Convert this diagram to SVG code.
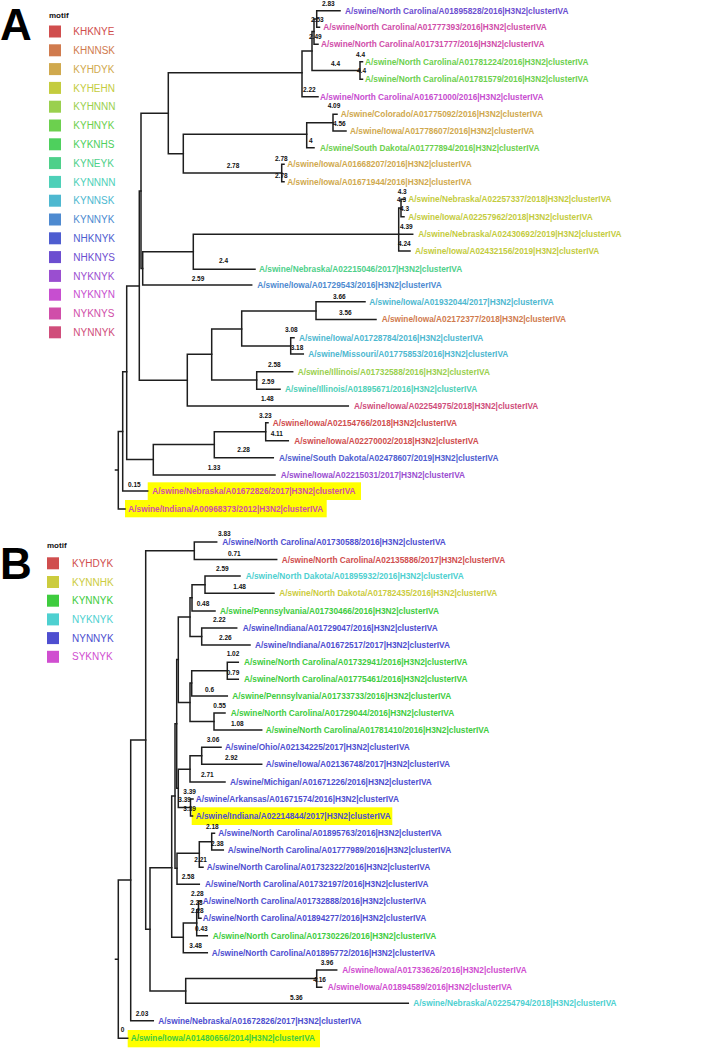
<svg xmlns="http://www.w3.org/2000/svg" width="727" height="1049" viewBox="0 0 727 1049">
<style>
.br{fill:none;stroke:#1e1e1e;stroke-width:1.5;stroke-linecap:square}
.lf{font-family:"Liberation Sans",Arial,sans-serif;font-weight:bold;font-size:8.3px}
.bl{font-family:"Liberation Sans",Arial,sans-serif;font-weight:bold;font-size:6.5px;fill:#111}
.lg{font-family:"Liberation Sans",Arial,sans-serif;font-size:10px}
.ttl{font-family:"Liberation Sans",Arial,sans-serif;font-weight:bold;font-size:8px;fill:#111}
.big{font-family:"Liberation Sans",Arial,sans-serif;font-weight:bold;font-size:44px;fill:#000}
.hl{fill:#ffff00}
.c0{fill:hsl(0,58%,56%)}.c1{fill:hsl(21,58%,56%)}.c2{fill:hsl(42,58%,56%)}.c3{fill:hsl(63,58%,52%)}
.c4{fill:hsl(85,58%,56%)}.c5{fill:hsl(106,58%,56%)}.c6{fill:hsl(127,58%,56%)}.c7{fill:hsl(148,58%,56%)}
.c8{fill:hsl(169,58%,56%)}.c9{fill:hsl(191,58%,56%)}.c10{fill:hsl(212,58%,56%)}.c11{fill:hsl(233,58%,56%)}
.c12{fill:hsl(254,58%,56%)}.c13{fill:hsl(275,58%,56%)}.c14{fill:hsl(296,58%,56%)}.c15{fill:hsl(318,58%,56%)}.c16{fill:hsl(339,58%,56%)}
.b0{fill:hsl(0,58%,56%)}.b1{fill:hsl(60,58%,52%)}.b2{fill:hsl(120,58%,52%)}.b3{fill:hsl(180,58%,56%)}.b4{fill:hsl(240,58%,56%)}.b5{fill:hsl(300,58%,56%)}
</style>
<rect width="727" height="1049" fill="#fff"/>

<!-- Panel A -->
<text class="big" x="0" y="40">A</text>
<g id="legend-a">
<text class="ttl" x="49" y="17.5">motif</text>
<rect class="c0" x="49" y="25.5" width="12" height="12"/><text class="lg c0" x="73.3" y="35.1">KHKNYE</text>
<rect class="c1" x="49" y="44.3" width="12" height="12"/><text class="lg c1" x="73.3" y="53.9">KHNNSK</text>
<rect class="c2" x="49" y="63.1" width="12" height="12"/><text class="lg c2" x="73.3" y="72.7">KYHDYK</text>
<rect class="c3" x="49" y="81.9" width="12" height="12"/><text class="lg c3" x="73.3" y="91.5">KYHEHN</text>
<rect class="c4" x="49" y="100.7" width="12" height="12"/><text class="lg c4" x="73.3" y="110.3">KYHNNN</text>
<rect class="c5" x="49" y="119.5" width="12" height="12"/><text class="lg c5" x="73.3" y="129.1">KYHNYK</text>
<rect class="c6" x="49" y="138.3" width="12" height="12"/><text class="lg c6" x="73.3" y="147.9">KYKNHS</text>
<rect class="c7" x="49" y="157.1" width="12" height="12"/><text class="lg c7" x="73.3" y="166.7">KYNEYK</text>
<rect class="c8" x="49" y="175.9" width="12" height="12"/><text class="lg c8" x="73.3" y="185.5">KYNNNN</text>
<rect class="c9" x="49" y="194.7" width="12" height="12"/><text class="lg c9" x="73.3" y="204.3">KYNNSK</text>
<rect class="c10" x="49" y="213.5" width="12" height="12"/><text class="lg c10" x="73.3" y="223.1">KYNNYK</text>
<rect class="c11" x="49" y="232.3" width="12" height="12"/><text class="lg c11" x="73.3" y="241.9">NHKNYK</text>
<rect class="c12" x="49" y="251.1" width="12" height="12"/><text class="lg c12" x="73.3" y="260.7">NHKNYS</text>
<rect class="c13" x="49" y="269.9" width="12" height="12"/><text class="lg c13" x="73.3" y="279.5">NYKNYK</text>
<rect class="c14" x="49" y="288.7" width="12" height="12"/><text class="lg c14" x="73.3" y="298.3">NYKNYN</text>
<rect class="c15" x="49" y="307.5" width="12" height="12"/><text class="lg c15" x="73.3" y="317.1">NYKNYS</text>
<rect class="c16" x="49" y="326.3" width="12" height="12"/><text class="lg c16" x="73.3" y="335.9">NYNNYK</text>
</g>

<rect class="hl" x="147.7" y="482.3" width="213.3" height="17.7"/>
<rect class="hl" x="125" y="500" width="201.7" height="17.3"/>

<g id="connectors-a" class="br">
<path d="M118.3 431.4V509M115.5 470H118.3M118.3 431.4H122.7M118.3 509H125"/>
<path d="M122.7 371.7V491M122.7 491H147.7M122.7 371.7H126.7"/>
<path d="M126.7 286V459.6M126.7 286H139.3M126.7 459.6H153.3"/>
<path d="M139.3 191V380.2M139.3 191H141M139.3 380.2H187.3"/>
<path d="M141 113.3V268.4M141 113.3H168.3M141 268.4H142.7"/>
<path d="M142.7 251.8V285M142.7 251.8H193.3M142.7 285H251.7"/>
<path d="M193.3 234.3V269.3M193.3 234.3H398.7M193.3 269.3H255"/>
<path d="M398.7 208V251M398.7 208H401M398.7 234.3H412.7M398.7 251H410"/>
<path d="M401 199.3V216.7M401 199.3H405M401 216.7H404"/>
<path d="M168.3 72.7V153.8M168.3 72.7H302M168.3 153.8H183.3"/>
<path d="M302 51V96.7M302 51H312M302 96.7H318"/>
<path d="M312 31.5V70.5M312 31.5H314M312 70.5H360"/>
<path d="M314 19V44.3M314 19H316.7M314 44.3H318"/>
<path d="M316.7 10.7V27.3M316.7 10.7H340M316.7 27.3H319.5"/>
<path d="M360 61.7V79.3M360 61.7H362.5M360 79.3H362.5"/>
<path d="M183.3 134.3V173M183.3 134.3H306.7M183.3 173H281.7"/>
<path d="M306.7 122.7V147.7M306.7 122.7H333M306.7 147.7H314"/>
<path d="M333 114.3V131M333 114.3H337M333 131H346"/>
<path d="M281.7 164.3V181.7M281.7 164.3H284M281.7 181.7H284"/>
<path d="M187.3 354.3V406M187.3 354.3H211.7M187.3 406H348.3"/>
<path d="M211.7 329V380M211.7 329H241.7M211.7 380H256.7"/>
<path d="M241.7 311V346M241.7 311H316M241.7 346H290.7"/>
<path d="M316 301.7V319.5M316 301.7H365M316 319.5H376"/>
<path d="M290.7 337.7V354M290.7 337.7H294M290.7 354H303.3"/>
<path d="M256.7 371.7V389.3M256.7 371.7H292.7M256.7 389.3H280"/>
<path d="M153.3 444.5V475M153.3 444.5H214.3M153.3 475H275"/>
<path d="M214.3 431.7V457.7M214.3 431.7H265.7M214.3 457.7H273.3"/>
<path d="M265.7 422.7V440.7M265.7 422.7H268M265.7 440.7H288.3"/>
</g>

<g id="branch-labels-a" class="bl">
<text x="322" y="6.3">2.83</text>
<text x="311" y="22.3">2.53</text>
<text x="309" y="39.3">2.49</text>
<text x="331" y="65.6">4.4</text>
<text x="356" y="56.6">4.4</text>
<text x="357" y="73.3">4.4</text>
<text x="303" y="91.6">2.22</text>
<text x="327.7" y="108.3">4.09</text>
<text x="333" y="125.6">4.56</text>
<text x="309" y="143.3">4</text>
<text x="226.7" y="168.3">2.78</text>
<text x="275" y="160.6">2.78</text>
<text x="275" y="178.3">2.78</text>
<text x="397.7" y="194">4.3</text>
<text x="397" y="202.3">4.3</text>
<text x="400" y="211.3">4.3</text>
<text x="400" y="229">4.39</text>
<text x="398" y="245.6">4.24</text>
<text x="219" y="263.3">2.4</text>
<text x="191.7" y="281.3">2.59</text>
<text x="333" y="299">3.66</text>
<text x="339" y="315">3.56</text>
<text x="285" y="332.3">3.08</text>
<text x="290.7" y="350">3.18</text>
<text x="268" y="366.6">2.58</text>
<text x="261.7" y="384">2.59</text>
<text x="261" y="401">1.48</text>
<text x="259" y="418.3">3.23</text>
<text x="270.7" y="435.6">4.11</text>
<text x="237.3" y="452.3">2.28</text>
<text x="207.7" y="470">1.33</text>
<text x="128" y="486.6">0.15</text>
</g>

<g id="a-leaf-1"><text class="lf c12" x="345" y="13.7">A/swine/North Carolina/A01895828/2016|H3N2|clusterIVA</text></g>
<g id="a-leaf-2"><text class="lf c15" x="323.3" y="30.3">A/swine/North Carolina/A01777393/2016|H3N2|clusterIVA</text></g>
<g id="a-leaf-3"><text class="lf c15" x="321" y="47.3">A/swine/North Carolina/A01731777/2016|H3N2|clusterIVA</text></g>
<g id="a-leaf-4"><text class="lf c5" x="365" y="64.7">A/swine/North Carolina/A01781224/2016|H3N2|clusterIVA</text></g>
<g id="a-leaf-5"><text class="lf c5" x="365" y="82.3">A/swine/North Carolina/A01781579/2016|H3N2|clusterIVA</text></g>
<g id="a-leaf-6"><text class="lf c14" x="320" y="99.7">A/swine/North Carolina/A01671000/2016|H3N2|clusterIVA</text></g>
<g id="a-leaf-7"><text class="lf c2" x="340.7" y="117.3">A/swine/Colorado/A01775092/2016|H3N2|clusterIVA</text></g>
<g id="a-leaf-8"><text class="lf c2" x="350" y="134">A/swine/Iowa/A01778607/2016|H3N2|clusterIVA</text></g>
<g id="a-leaf-9"><text class="lf c5" x="320" y="150.7">A/swine/South Dakota/A01777894/2016|H3N2|clusterIVA</text></g>
<g id="a-leaf-10"><text class="lf c2" x="287.3" y="167.3">A/swine/Iowa/A01668207/2016|H3N2|clusterIVA</text></g>
<g id="a-leaf-11"><text class="lf c2" x="287.3" y="184.7">A/swine/Iowa/A01671944/2016|H3N2|clusterIVA</text></g>
<g id="a-leaf-12"><text class="lf c3" x="408.3" y="202.3">A/swine/Nebraska/A02257337/2018|H3N2|clusterIVA</text></g>
<g id="a-leaf-13"><text class="lf c3" x="408.3" y="219.7">A/swine/Iowa/A02257962/2018|H3N2|clusterIVA</text></g>
<g id="a-leaf-14"><text class="lf c3" x="418.3" y="237.3">A/swine/Nebraska/A02430692/2019|H3N2|clusterIVA</text></g>
<g id="a-leaf-15"><text class="lf c3" x="415" y="254">A/swine/Iowa/A02432156/2019|H3N2|clusterIVA</text></g>
<g id="a-leaf-16"><text class="lf c7" x="259" y="272.3">A/swine/Nebraska/A02215046/2017|H3N2|clusterIVA</text></g>
<g id="a-leaf-17"><text class="lf c10" x="257.3" y="288">A/swine/Iowa/A01729543/2016|H3N2|clusterIVA</text></g>
<g id="a-leaf-18"><text class="lf c9" x="369.3" y="304.7">A/swine/Iowa/A01932044/2017|H3N2|clusterIVA</text></g>
<g id="a-leaf-19"><text class="lf c1" x="381.7" y="322">A/swine/Iowa/A02172377/2018|H3N2|clusterIVA</text></g>
<g id="a-leaf-20"><text class="lf c9" x="299" y="340.7">A/swine/Iowa/A01728784/2016|H3N2|clusterIVA</text></g>
<g id="a-leaf-21"><text class="lf c9" x="308.3" y="357">A/swine/Missouri/A01775853/2016|H3N2|clusterIVA</text></g>
<g id="a-leaf-22"><text class="lf c4" x="297.7" y="374.7">A/swine/Illinois/A01732588/2016|H3N2|clusterIVA</text></g>
<g id="a-leaf-23"><text class="lf c8" x="285" y="392.3">A/swine/Illinois/A01895671/2016|H3N2|clusterIVA</text></g>
<g id="a-leaf-24"><text class="lf c16" x="354" y="409">A/swine/Iowa/A02254975/2018|H3N2|clusterIVA</text></g>
<g id="a-leaf-25"><text class="lf c0" x="272.7" y="425.7">A/swine/Iowa/A02154766/2018|H3N2|clusterIVA</text></g>
<g id="a-leaf-26"><text class="lf c0" x="294.3" y="443.7">A/swine/Iowa/A02270002/2018|H3N2|clusterIVA</text></g>
<g id="a-leaf-27"><text class="lf c11" x="279" y="460.7">A/swine/South Dakota/A02478607/2019|H3N2|clusterIVA</text></g>
<g id="a-leaf-28"><text class="lf c13" x="280.7" y="478">A/swine/Iowa/A02215031/2017|H3N2|clusterIVA</text></g>
<g id="a-leaf-29"><text class="lf c15" x="152.3" y="494">A/swine/Nebraska/A01672826/2017|H3N2|clusterIVA</text></g>
<g id="a-leaf-30"><text class="lf c15" x="128.3" y="512">A/swine/Indiana/A00968373/2012|H3N2|clusterIVA</text></g>

<!-- Panel B -->
<text class="big" x="0" y="578.5">B</text>
<g id="legend-b">
<text class="ttl" x="47" y="548">motif</text>
<rect class="b0" x="47" y="557.3" width="12" height="12"/><text class="lg b0" x="72" y="566.9">KYHDYK</text>
<rect class="b1" x="47" y="576" width="12" height="12"/><text class="lg b1" x="72" y="585.6">KYNNHK</text>
<rect class="b2" x="47" y="594.7" width="12" height="12"/><text class="lg b2" x="72" y="604.3">KYNNYK</text>
<rect class="b3" x="47" y="613.4" width="12" height="12"/><text class="lg b3" x="72" y="623">NYKNYK</text>
<rect class="b4" x="47" y="632.1" width="12" height="12"/><text class="lg b4" x="72" y="641.7">NYNNYK</text>
<rect class="b5" x="47" y="650.8" width="12" height="12"/><text class="lg b5" x="72" y="660.4">SYKNYK</text>
</g>

<rect class="hl" x="191.7" y="807.3" width="200.6" height="17.7"/>
<rect class="hl" x="127.7" y="1030" width="192.3" height="17.3"/>

<g id="connectors-b" class="br">
<path d="M118.3 880V1038.3M115.5 959.3H118.3M118.3 880H130.7M118.3 1038.3H127.7"/>
<path d="M130.7 740V1020.7M130.7 740H145.7M130.7 1020.7H153.3"/>
<path d="M145.7 550.7V929.3M145.7 550.7H194.3M145.7 929.3H150"/>
<path d="M194.3 542V559.5M194.3 542H216.7M194.3 559.5H276.7"/>
<path d="M150 867.7V991M150 867.7H171.7M150 991H185.7"/>
<path d="M185.7 978.5V1003.3M185.7 978.5H316.7M185.7 1003.3H408.3"/>
<path d="M316.7 970V987.3M316.7 970H336.7M316.7 987.3H321.7"/>
<path d="M171.7 796V937.3M171.7 796H175M171.7 937.3H183.3"/>
<path d="M183.3 923V952.7M183.3 923H196.7M183.3 952.7H207.3"/>
<path d="M196.7 909.7V935.7M196.7 909.7H198.5M196.7 935.7H207.3"/>
<path d="M198.5 901V918.3M198.5 901H201M198.5 918.3H201"/>
<path d="M175 723.8V868.3M175 723.8H176.7M175 868.3H177"/>
<path d="M177 853.3V884.3M177 853.3H199.3M177 884.3H199.3"/>
<path d="M199.3 841.7V867.3M199.3 841.7H211.7M199.3 867.3H203"/>
<path d="M211.7 833.3V850M211.7 833.3H214.5M211.7 850H223.3"/>
<path d="M176.7 659.5V788.3M176.7 659.5H178.3M176.7 788.3H178.3"/>
<path d="M178.3 769.3V807.5M178.3 769.3H190M178.3 807.5H190.5"/>
<path d="M190 755.8V782M190 755.8H201.7M190 782H225"/>
<path d="M201.7 747.3V764.3M201.7 747.3H221M201.7 764.3H261.7"/>
<path d="M190.5 799V816M190.5 799H193M190.5 816H192.5"/>
<path d="M178.3 617V702.5M178.3 617H190M178.3 702.5H190"/>
<path d="M190 683V721.5M190 683H191.7M190 721.5H214"/>
<path d="M191.7 670.8V696M191.7 670.8H227.3M191.7 696H227.3"/>
<path d="M227.3 662.3V679.3M227.3 662.3H238.3M227.3 679.3H238.3"/>
<path d="M214 713V730M214 713H225M214 730H261.7"/>
<path d="M190 597.8V636.5M190 597.8H192M190 636.5H201.7"/>
<path d="M192 584.7V611M192 584.7H205M192 611H215"/>
<path d="M205 576V593.3M205 576H240M205 593.3H274"/>
<path d="M201.7 628V645M201.7 628H236.7M201.7 645H250"/>
</g>

<g id="branch-labels-b" class="bl">
<text x="218" y="536">3.83</text>
<text x="228" y="555.6">0.71</text>
<text x="216" y="571.3">2.59</text>
<text x="233.3" y="589">1.48</text>
<text x="196.7" y="605.6">0.48</text>
<text x="213" y="622.3">2.22</text>
<text x="219" y="639.6">2.26</text>
<text x="226.7" y="656.3">1.02</text>
<text x="226.7" y="674.6">0.79</text>
<text x="205" y="691.6">0.6</text>
<text x="213.3" y="708">0.55</text>
<text x="231" y="725.6">1.08</text>
<text x="206.7" y="742.3">3.06</text>
<text x="225" y="759.6">2.92</text>
<text x="201" y="776.6">2.71</text>
<text x="183.3" y="794">3.39</text>
<text x="178.3" y="802.3">3.39</text>
<text x="183.3" y="811.3">3.39</text>
<text x="206" y="829">2.18</text>
<text x="211" y="845.6">2.38</text>
<text x="194.3" y="862.3">2.21</text>
<text x="181.7" y="879">2.58</text>
<text x="191" y="895.6">2.28</text>
<text x="190" y="904.6">2.28</text>
<text x="191" y="913.3">2.28</text>
<text x="195" y="930.6">0.43</text>
<text x="189.3" y="948.3">3.48</text>
<text x="320.7" y="965">3.96</text>
<text x="313.3" y="981.6">4.16</text>
<text x="290" y="1000">5.36</text>
<text x="135.7" y="1015.6">2.03</text>
<text x="120.7" y="1031.6">0</text>
</g>

<g id="b-leaf-1"><text class="lf b4" x="222.3" y="545">A/swine/North Carolina/A01730588/2016|H3N2|clusterIVA</text></g>
<g id="b-leaf-2"><text class="lf b0" x="281.7" y="562.5">A/swine/North Carolina/A02135886/2017|H3N2|clusterIVA</text></g>
<g id="b-leaf-3"><text class="lf b3" x="245.7" y="579">A/swine/North Dakota/A01895932/2016|H3N2|clusterIVA</text></g>
<g id="b-leaf-4"><text class="lf b1" x="279.3" y="596.3">A/swine/North Dakota/A01782435/2016|H3N2|clusterIVA</text></g>
<g id="b-leaf-5"><text class="lf b2" x="220" y="614">A/swine/Pennsylvania/A01730466/2016|H3N2|clusterIVA</text></g>
<g id="b-leaf-6"><text class="lf b4" x="242.7" y="631">A/swine/Indiana/A01729047/2016|H3N2|clusterIVA</text></g>
<g id="b-leaf-7"><text class="lf b4" x="255" y="648">A/swine/Indiana/A01672517/2017|H3N2|clusterIVA</text></g>
<g id="b-leaf-8"><text class="lf b2" x="244" y="665.3">A/swine/North Carolina/A01732941/2016|H3N2|clusterIVA</text></g>
<g id="b-leaf-9"><text class="lf b2" x="244" y="682.3">A/swine/North Carolina/A01775461/2016|H3N2|clusterIVA</text></g>
<g id="b-leaf-10"><text class="lf b2" x="232.3" y="699">A/swine/Pennsylvania/A01733733/2016|H3N2|clusterIVA</text></g>
<g id="b-leaf-11"><text class="lf b2" x="230.7" y="716">A/swine/North Carolina/A01729044/2016|H3N2|clusterIVA</text></g>
<g id="b-leaf-12"><text class="lf b2" x="265.7" y="733">A/swine/North Carolina/A01781410/2016|H3N2|clusterIVA</text></g>
<g id="b-leaf-13"><text class="lf b4" x="225" y="750.3">A/swine/Ohio/A02134225/2017|H3N2|clusterIVA</text></g>
<g id="b-leaf-14"><text class="lf b4" x="265.7" y="767.3">A/swine/Iowa/A02136748/2017|H3N2|clusterIVA</text></g>
<g id="b-leaf-15"><text class="lf b4" x="230" y="785">A/swine/Michigan/A01671226/2016|H3N2|clusterIVA</text></g>
<g id="b-leaf-16"><text class="lf b4" x="195.7" y="802">A/swine/Arkansas/A01671574/2016|H3N2|clusterIVA</text></g>
<g id="b-leaf-17"><text class="lf b4" x="195.7" y="819">A/swine/Indiana/A02214844/2017|H3N2|clusterIVA</text></g>
<g id="b-leaf-18"><text class="lf b4" x="218.3" y="836.3">A/swine/North Carolina/A01895763/2016|H3N2|clusterIVA</text></g>
<g id="b-leaf-19"><text class="lf b4" x="227.7" y="853">A/swine/North Carolina/A01777989/2016|H3N2|clusterIVA</text></g>
<g id="b-leaf-20"><text class="lf b4" x="206.7" y="870.3">A/swine/North Carolina/A01732322/2016|H3N2|clusterIVA</text></g>
<g id="b-leaf-21"><text class="lf b4" x="205" y="887.3">A/swine/North Carolina/A01732197/2016|H3N2|clusterIVA</text></g>
<g id="b-leaf-22"><text class="lf b4" x="202.7" y="904">A/swine/North Carolina/A01732888/2016|H3N2|clusterIVA</text></g>
<g id="b-leaf-23"><text class="lf b4" x="202.7" y="921.3">A/swine/North Carolina/A01894277/2016|H3N2|clusterIVA</text></g>
<g id="b-leaf-24"><text class="lf b2" x="212.7" y="938.7">A/swine/North Carolina/A01730226/2016|H3N2|clusterIVA</text></g>
<g id="b-leaf-25"><text class="lf b4" x="211.7" y="955.7">A/swine/North Carolina/A01895772/2016|H3N2|clusterIVA</text></g>
<g id="b-leaf-26"><text class="lf b5" x="342.3" y="973">A/swine/Iowa/A01733626/2016|H3N2|clusterIVA</text></g>
<g id="b-leaf-27"><text class="lf b5" x="327.7" y="990.3">A/swine/Iowa/A01894589/2016|H3N2|clusterIVA</text></g>
<g id="b-leaf-28"><text class="lf b3" x="413.3" y="1006.3">A/swine/Nebraska/A02254794/2018|H3N2|clusterIVA</text></g>
<g id="b-leaf-29"><text class="lf b4" x="158.3" y="1023.7">A/swine/Nebraska/A01672826/2017|H3N2|clusterIVA</text></g>
<g id="b-leaf-30"><text class="lf b2" x="130.7" y="1041.3">A/swine/Iowa/A01480656/2014|H3N2|clusterIVA</text></g>
</svg>
